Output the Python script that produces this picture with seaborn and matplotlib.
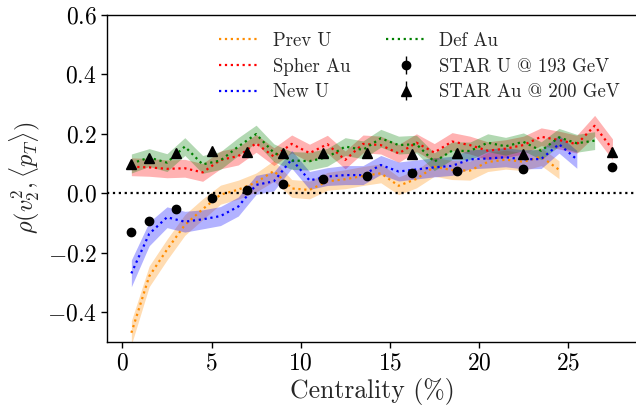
import numpy as np
import pandas as pd
import matplotlib
matplotlib.use("Agg")
import matplotlib.pyplot as plt
import seaborn as sns

# ---------------- data ----------------
cent_prev_u = [0.5, 1.5, 2.5, 3.5, 4.5, 5.5, 6.5, 7.5, 8.5, 9.5, 10.5, 11.5, 12.5,
               13.5, 14.5, 15.5, 16.5, 17.5, 18.5, 19.5, 20.5, 21.5, 22.5, 23.5, 24.5]
prev_u = [-0.470, -0.280, -0.190, -0.107, -0.054, -0.005, 0.012, 0.036, 0.075, 0.016,
          0.011, 0.040, 0.047, 0.058, 0.067, 0.025, 0.048, 0.089, 0.078, 0.076,
          0.105, 0.113, 0.106, 0.123, 0.079]
prev_u_err = [0.040, 0.035, 0.035, 0.035, 0.035, 0.032, 0.032, 0.032, 0.035, 0.030,
              0.030, 0.030, 0.032, 0.032, 0.032, 0.030, 0.030, 0.032, 0.032, 0.032,
              0.032, 0.032, 0.030, 0.030, 0.030]

cent_new_u = [0.5, 1.5, 2.5, 3.5, 4.5, 5.5, 6.5, 7.5, 8.5, 9.5, 10.5, 11.5, 12.5,
              13.5, 14.5, 15.5, 16.5, 17.5, 18.5, 19.5, 20.5, 21.5, 22.5, 23.5, 24.5, 25.5]
new_u = [-0.270, -0.137, -0.081, -0.096, -0.088, -0.077, -0.045, 0.028, 0.040, 0.114,
         0.043, 0.056, 0.061, 0.061, 0.095, 0.073, 0.080, 0.087, 0.092, 0.114,
         0.117, 0.121, 0.114, 0.115, 0.165, 0.114]
new_u_err = [0.045, 0.040, 0.035, 0.035, 0.032, 0.032, 0.032, 0.032, 0.032, 0.030,
             0.030, 0.030, 0.032, 0.032, 0.032, 0.032, 0.032, 0.032, 0.032, 0.032,
             0.032, 0.032, 0.032, 0.032, 0.030, 0.030]

cent_spher_au = [0.5, 1.5, 2.5, 3.5, 4.5, 5.5, 6.5, 7.5, 8.5, 9.5, 10.5, 11.5, 12.5,
                 13.5, 14.5, 15.5, 16.5, 17.5, 18.5, 19.5, 20.5, 21.5, 22.5, 23.5,
                 24.5, 25.5, 26.5, 27.5]
spher_au = [0.089, 0.087, 0.082, 0.084, 0.070, 0.112, 0.125, 0.168, 0.123, 0.166,
            0.135, 0.165, 0.112, 0.166, 0.162, 0.134, 0.170, 0.137, 0.174, 0.162,
            0.143, 0.150, 0.162, 0.190, 0.179, 0.165, 0.227, 0.148]
spher_au_err = [0.030, 0.030, 0.030, 0.030, 0.030, 0.030, 0.030, 0.030, 0.030, 0.030,
                0.030, 0.030, 0.030, 0.030, 0.030, 0.030, 0.030, 0.030, 0.030, 0.030,
                0.030, 0.030, 0.030, 0.030, 0.030, 0.030, 0.035, 0.035]

cent_def_au = [0.5, 1.5, 2.5, 3.5, 4.5, 5.5, 6.5, 7.5, 8.5, 9.5, 10.5, 11.5, 12.5,
               13.5, 14.5, 15.5, 16.5, 17.5, 18.5, 19.5, 20.5, 21.5, 22.5, 23.5,
               24.5, 25.5, 26.5]
def_au = [0.100, 0.120, 0.103, 0.157, 0.097, 0.110, 0.157, 0.199, 0.136, 0.110,
          0.108, 0.121, 0.157, 0.146, 0.185, 0.162, 0.165, 0.106, 0.143, 0.142,
          0.170, 0.158, 0.173, 0.143, 0.188, 0.168, 0.177]
def_au_err = [0.032, 0.030, 0.030, 0.030, 0.030, 0.030, 0.030, 0.030, 0.030, 0.030,
              0.030, 0.030, 0.030, 0.030, 0.030, 0.030, 0.030, 0.030, 0.030, 0.030,
              0.030, 0.030, 0.030, 0.030, 0.030, 0.030, 0.030]

cent_star = [0.5, 1.5, 3.0, 5.0, 7.0, 9.0, 11.25, 13.75, 16.25, 18.75, 22.5, 27.5]
star_u = [-0.130, -0.093, -0.054, -0.015, 0.011, 0.032, 0.047, 0.059, 0.067, 0.075,
          0.080, 0.089]
star_u_err = [0.004, 0.004, 0.004, 0.004, 0.004, 0.004, 0.004, 0.004, 0.004, 0.004,
              0.004, 0.004]
star_au = [0.098, 0.117, 0.136, 0.143, 0.140, 0.136, 0.136, 0.135, 0.133, 0.134,
           0.132, 0.138]
star_au_err = [0.004, 0.004, 0.004, 0.004, 0.004, 0.004, 0.004, 0.004, 0.004, 0.004,
               0.004, 0.004]

# ---------------- style ----------------
sns.set_theme(style="ticks")
plt.rcParams.update({
    "font.family": ["cmr10", "DejaVu Serif"],
    "mathtext.fontset": "cm",
    "axes.formatter.use_mathtext": True,
    "axes.unicode_minus": True,
    "axes.linewidth": 1.0,
    "axes.edgecolor": "black",
    "xtick.color": "black",
    "ytick.color": "black",
    "xtick.major.size": 4,
    "ytick.major.size": 4,
    "xtick.major.width": 1.0,
    "ytick.major.width": 1.0,
})

fig = plt.figure(figsize=(6.36, 4.08), dpi=100)
ax = fig.add_axes([107.3 / 636, (408 - 341.7) / 408, (636.5 - 107.3) / 636, (341.7 - 15) / 408])

models = [
    ("Prev U", cent_prev_u, prev_u, prev_u_err, "darkorange"),
    ("Spher Au", cent_spher_au, spher_au, spher_au_err, "red"),
    ("New U", cent_new_u, new_u, new_u_err, "blue"),
    ("Def Au", cent_def_au, def_au, def_au_err, "green"),
]

handles = []
for name, xs, ys, es, col in models:
    df = pd.DataFrame({"x": xs, "y": ys, "e": es})
    ax.fill_between(df["x"], df["y"] - df["e"], df["y"] + df["e"],
                    color=col, alpha=0.3, linewidth=0)
    sns.lineplot(data=df, x="x", y="y", ax=ax, color=col, linestyle=":",
                 linewidth=1.6, label=name, legend=False)
    handles.append(ax.lines[-1])

h_u = ax.errorbar(cent_star, star_u, yerr=star_u_err, fmt="o", color="black",
                  markersize=6, elinewidth=1, label="STAR U @ 193 GeV", zorder=5)
h_au = ax.errorbar(cent_star, star_au, yerr=star_au_err, fmt="^", color="black",
                   markersize=7, elinewidth=1, label="STAR Au @ 200 GeV", zorder=5)

ax.axhline(0.0, color="black", linestyle=":", linewidth=1.6)

ax.set_xlim(-0.85, 28.85)
ax.set_ylim(-0.5, 0.6)
ax.set_xticks([0, 5, 10, 15, 20, 25])
ax.set_yticks([-0.4, -0.2, 0.0, 0.2, 0.4, 0.6])
ax.tick_params(axis="both", labelsize=17, direction="out")
ax.set_xlabel("Centrality (%)", fontsize=18.5, labelpad=3)
ax.set_ylabel(r"$\rho(v_2^2,\langle p_T\rangle)$", fontsize=17.5)

leg = ax.legend(handles + [h_u, h_au],
                ["Prev U", "Spher Au", "New U", "Def Au",
                 "STAR U @ 193 GeV", "STAR Au @ 200 GeV"],
                ncol=2, frameon=False, fontsize=13.5, loc="upper left",
                bbox_to_anchor=(0.18, 1.0), handlelength=2.1, handletextpad=0.75,
                columnspacing=1.9, labelspacing=0.42)

fig.savefig("out.png", dpi=100)
